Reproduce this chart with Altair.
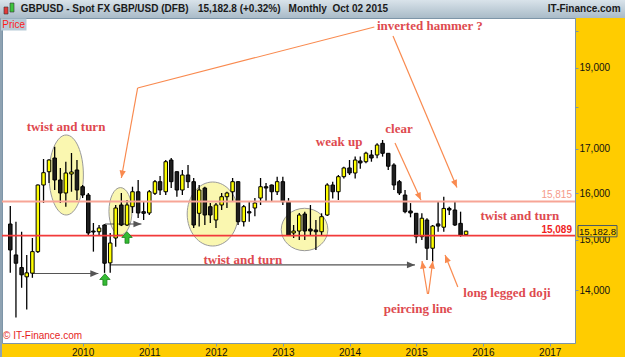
import math
import altair as alt
import pandas as pd

# ---------------- data ----------------
months = pd.date_range("2008-12-01", periods=83, freq="MS")

opens = [15333,                                                          # 2008-12
         14695, 14443, 14260, 14332, 14762, 16177, 16475, 16788, 16289, 16000, 16423, 16514,  # 2009
         16139, 15956, 15186, 15171, 15312, 14536, 15041, 15739, 15312, 15702, 16028, 15595,  # 2010
         15567, 15993, 16251, 16028, 16742, 16475, 16066, 16401, 16251, 15560, 16110, 15702,  # 2011
         15418, 15739, 15919, 16028, 16251, 15382, 15595, 15674, 15890, 16139, 16177, 16028,  # 2012
         16251, 15810, 15145, 15186, 15545, 15228, 15207, 15171, 15524, 16177, 16028, 16363,  # 2013
         16560, 16446, 16720, 16703, 16858, 16858, 17130, 16897, 16628, 16251, 15956, 15610,  # 2014
         15560, 15068, 15418, 14831, 15335, 15266, 15665, 15631, 15347, 15110]                # 2015
highs = [15717,
         15382, 15171, 14695, 15041, 16190, 16765, 16760, 17051, 16560, 16703, 16904, 16742,
         16177, 16000, 15354, 15312, 15330, 15145, 15739, 16000, 15847, 16139, 16289, 15810,
         16066, 16289, 16380, 16742, 16788, 16480, 16514, 16628, 16334, 16177, 16139, 15782,
         15782, 16000, 16028, 16334, 16260, 15739, 15810, 15890, 16334, 16222, 16190, 16360,
         16360, 15890, 15312, 15567, 15595, 15739, 15418, 15560, 16215, 16251, 16401, 16590,
         16742, 16820, 16820, 16935, 16974, 17130, 17209, 16900, 16665, 16289, 16066, 15780,
         15565, 15560, 15455, 15312, 15810, 15919, 15702, 15810, 15595, 15190]
lows = [14338,
        13484, 14047, 13632, 14241, 14736, 15782, 16222, 16066, 15782, 15702, 16028, 15847,
        15890, 15103, 14762, 15103, 14338, 14338, 14864, 15290, 15290, 15567, 15461, 15418,
        15524, 15956, 15956, 15956, 16110, 15919, 15956, 16110, 15249, 15280, 15312, 15354,
        15249, 15631, 15674, 15810, 15312, 15280, 15382, 15496, 15739, 15810, 15810, 15956,
        15739, 15090, 15041, 15000, 15000, 15103, 14796, 15103, 15500, 15880, 15847, 16320,
        16401, 16320, 16545, 16665, 16703, 16780, 16820, 16514, 16066, 15956, 15560, 15475,
        14932, 15000, 14595, 14560, 15171, 15171, 15524, 15290, 15068, 15100]
closes = [14796,
          14529, 14299, 14338, 14762, 16177, 16453, 16742, 16289, 16000, 16446, 16469, 16066,
          15956, 15145, 15165, 15249, 14529, 14938, 15674, 15312, 15739, 16028, 15567, 15560,
          16028, 16251, 16066, 16703, 16251, 16066, 16401, 16251, 15312, 16066, 15524, 15524,
          15739, 15919, 16000, 16251, 15382, 15702, 15567, 15782, 16139, 16110, 16028, 16251,
          15810, 15103, 15186, 15524, 15186, 15186, 15171, 15488, 16177, 16028, 16363, 16560,
          16446, 16742, 16675, 16900, 16788, 17091, 16897, 16600, 16177, 16000, 15595, 15567,
          15068, 15455, 14831, 15290, 15290, 15665, 15631, 15312, 15103, 15182.8]

level_values = [15815, 15089]
level_labels = ["15,815", "15,089"]
current_price = 15182.8
current_label = "15,182.8"

year_ticks = [2010, 2011, 2012, 2013, 2014, 2015, 2016, 2017]
price_ticks = [14000, 15000, 16000, 17000, 18000, 19000, 20000]

note_texts = ["twist and turn", "inverted hammer ?", "weak up", "clear",
              "twist and turn", "twist and turn", "peircing line", "long legged doji"]
note_dates = ["2009-10-02", "2015-03-17", "2013-11-05", "2014-09-29",
              "2012-05-27", "2016-07-21", "2015-01-11", "2016-05-12"]
note_prices = [17519, 20126, 17162, 17471, 14595, 15503, 13644, 13947]

ell_dates = ["2009-10-03", "2010-07-27", "2011-12-14", "2013-04-30"]
ell_prices = [16401, 15603, 15545, 15218]
ell_rx = [17.2, 11.5, 25.5, 23.3]
ell_ry = [40.0, 23.7, 32.0, 21.2]

orange_x1 = ["2014-05-17", "2010-10-29", "2014-08-27", "2014-09-07", "2015-03-04", "2015-03-09", "2015-08-17"]
orange_y1 = [20098, 18483, 19851, 17138, 13928, 13928, 14062]
orange_x2 = ["2010-10-29", "2010-08-01", "2015-08-12", "2015-01-27", "2015-02-02", "2015-04-02", "2015-06-08"]
orange_y2 = [18483, 16333, 16122, 15847, 14573, 14573, 14694]
orange_head = [False, True, True, True, True, True, True]

grey_x1 = ["2009-04-02", "2010-05-03", "2010-05-30"]
grey_x2 = ["2010-03-28", "2010-11-19", "2014-12-25"]
grey_y = [14325, 15333, 14496]

green_dates = ["2010-05-03", "2010-09-01"]
green_prices = [14208, 15052]

# ---------------- scales / layout ----------------
W, H = 573, 325
D_LO, D_HI = pd.Timestamp("2008-11-13"), pd.Timestamp("2017-04-22")
Y_LO, Y_HI = 13021, 20348
SANS = "Liberation Sans"
SERIF = "Liberation Serif"
NOTE_RED = "#de4a4f"
ORANGE = "#f98a4f"
GREY = "#555555"
FRAME = "#7d95a8"

def px(d):
    return (pd.Timestamp(d) - D_LO) / (D_HI - D_LO) * W

def py(v):
    return H * (1 - (math.log(v) - math.log(Y_LO)) / (math.log(Y_HI) - math.log(Y_LO)))

def heading(xa, ya, xb, yb):
    dx, dy = px(xb) - px(xa), py(yb) - py(ya)
    return math.degrees(math.atan2(dx, -dy)) % 360

xscale = alt.Scale(domain=[alt.DateTime(year=2008, month=11, date=13),
                           alt.DateTime(year=2017, month=4, date=22)], nice=False)
yscale = alt.Scale(type="log", domain=[Y_LO, Y_HI], nice=False)

xaxis = alt.Axis(values=[alt.DateTime(year=y, month=1, date=1) for y in year_ticks],
                 format="%Y", grid=False, domain=False, tickColor=FRAME, tickSize=3,
                 labelFont=SANS, labelFontSize=10, labelColor="#111111", labelPadding=1,
                 labelFlush=False, labelOverlap=False, title=None)
yaxis = alt.Axis(orient="right", values=price_ticks,
                 labelExpr="(datum.value == 18000 || datum.value == 20000) ? '' : format(datum.value, ',')",
                 grid=False, domain=True, domainColor=FRAME, tickColor=FRAME, tickSize=3,
                 labelFont=SANS, labelFontSize=10, labelColor="#111111", labelPadding=1,
                 labelOverlap=False, labelFlush=False, title=None)

def X(f):
    return alt.X(f"{f}:T", scale=xscale, axis=xaxis, title=None)

def Y(f):
    return alt.Y(f"{f}:Q", scale=yscale, axis=yaxis, title=None)

# ---------------- tables ----------------
candles = pd.DataFrame({"date": months, "open": opens, "high": highs, "low": lows, "close": closes})

def ell_path(a, b):
    k = 0.5523
    return (f"M{a:.4f},0 C{a:.4f},{k*b:.4f} {k*a:.4f},{b:.4f} 0,{b:.4f} "
            f"C{-k*a:.4f},{b:.4f} {-a:.4f},{k*b:.4f} {-a:.4f},0 "
            f"C{-a:.4f},{-k*b:.4f} {-k*a:.4f},{-b:.4f} 0,{-b:.4f} "
            f"C{k*a:.4f},{-b:.4f} {a:.4f},{-k*b:.4f} {a:.4f},0 Z")

ell_names = [f"e{i}" for i in range(len(ell_dates))]
ell_paths, ell_sizes = [], []
for rx, ry in zip(ell_rx, ell_ry):
    s = max(rx, ry)
    ell_paths.append(ell_path(rx / s, ry / s))
    ell_sizes.append((2 * s) ** 2)
ell_df = pd.DataFrame({"date": pd.to_datetime(ell_dates), "price": ell_prices,
                       "name": ell_names, "sz": ell_sizes})

orange_df = pd.DataFrame({"d1": pd.to_datetime(orange_x1), "p1": orange_y1,
                          "d2": pd.to_datetime(orange_x2), "p2": orange_y2,
                          "head": orange_head})
orange_df["ang"] = [heading(a, b, c, d) for a, b, c, d in zip(orange_x1, orange_y1, orange_x2, orange_y2)]
orange_heads = orange_df[orange_df["head"]]

grey_df = pd.DataFrame({"d1": pd.to_datetime(grey_x1), "d2": pd.to_datetime(grey_x2), "p": grey_y})
grey_df["ang"] = [heading(a, p, b, p) for a, b, p in zip(grey_x1, grey_x2, grey_y)]

notes_df = pd.DataFrame({"date": pd.to_datetime(note_dates), "price": note_prices, "txt": note_texts})
green_df = pd.DataFrame({"date": pd.to_datetime(green_dates), "price": green_prices})
levels_df = pd.DataFrame({"price": level_values, "lab": level_labels})
cur_df = pd.DataFrame({"price": [current_price], "lab": [current_label]})

HEAD = "M0,0 L0.42,1 L-0.42,1 Z"
UP_ARROW = "M0,-1 L0.9,0 L0.35,0 L0.35,1 L-0.35,1 L-0.35,0 L-0.9,0 Z"
BOX = "M-1,-0.29 L1,-0.29 L1,0.29 L-1,0.29 Z"

# ---------------- layers ----------------
ellipses = alt.Chart(ell_df).mark_point(filled=True, fill="#faf7b0", stroke="#9a9a9a",
                                        strokeWidth=1, opacity=1, fillOpacity=1).encode(
    x=X("date"), y=Y("price"),
    shape=alt.Shape("name:N", scale=alt.Scale(domain=ell_names, range=ell_paths), legend=None),
    size=alt.Size("sz:Q", scale=None, legend=None))

grey_lines = alt.Chart(grey_df).mark_rule(color=GREY, strokeWidth=1.2).encode(
    x=X("d1"), x2="d2:T", y=Y("p"))
grey_heads = alt.Chart(grey_df).mark_point(shape=HEAD, filled=True, color=GREY, size=256, opacity=1).encode(
    x=X("d2"), y=Y("p"), angle=alt.Angle("ang:Q", scale=None))

wicks = alt.Chart(candles).mark_rule(color="black", strokeWidth=1.3).encode(
    x=X("date"), y=Y("low"), y2="high:Q")
bodies = alt.Chart(candles).mark_bar(size=3.5, stroke="black", strokeWidth=1).encode(
    x=X("date"), y=Y("open"), y2="close:Q",
    color=alt.condition("datum.close >= datum.open", alt.value("#ffff00"), alt.value("#1e1e1e")))

level_colors = ["#f7a596", "#f23a3a"]
levels = alt.Chart(levels_df).mark_rule(strokeWidth=1.8).encode(
    y=Y("price"),
    color=alt.Color("lab:N", scale=alt.Scale(domain=level_labels, range=level_colors), legend=None))
level_text_hi = alt.Chart(levels_df.iloc[[0]]).mark_text(
    align="right", baseline="middle", dy=-6, font=SANS, fontSize=10, color="#f59a8a").encode(
    x=alt.value(570), y=Y("price"), text="lab:N")
level_text_lo = alt.Chart(levels_df.iloc[[1]]).mark_text(
    align="right", baseline="middle", dy=-6, font=SANS, fontSize=10, fontWeight="bold",
    color="#f01e1e").encode(
    x=alt.value(570), y=Y("price"), text="lab:N")

greens = alt.Chart(green_df).mark_point(shape=UP_ARROW, filled=True, fill="#33bb33", stroke="#1d7f1d",
                                        strokeWidth=0.8, size=132, opacity=1).encode(
    x=X("date"), y=Y("price"))

orange_lines = alt.Chart(orange_df).mark_rule(color=ORANGE, strokeWidth=1.2).encode(
    x=X("d1"), x2="d2:T", y=Y("p1"), y2="p2:Q")
orange_tips = alt.Chart(orange_heads).mark_point(shape=HEAD, filled=True, color=ORANGE, size=225, opacity=1).encode(
    x=X("d2"), y=Y("p2"), angle=alt.Angle("ang:Q", scale=None))

notes = alt.Chart(notes_df).mark_text(font=SERIF, fontSize=13, fontWeight="bold", color=NOTE_RED,
                                      baseline="middle", align="center").encode(
    x=X("date"), y=Y("price"), text="txt:N")

cur_box = alt.Chart(cur_df).mark_point(shape=BOX, filled=True, fill="#ffcc00", stroke="#4a5a66",
                                       strokeWidth=1, size=1521, opacity=1).encode(
    x=alt.value(595.5), y=Y("price"))
cur_text = alt.Chart(cur_df).mark_text(font=SANS, fontSize=9.5, color="#111111", baseline="middle",
                                       align="center", dy=1).encode(
    x=alt.value(595.5), y=Y("price"), text="lab:N")

one = alt.Data(values=[{"k": 0}])

def deco_rect(x, x2, y, y2, color, **kw):
    return alt.Chart(one).mark_rect(color=color, **kw).encode(
        x=alt.value(x), x2=alt.value(x2), y=alt.value(y), y2=alt.value(y2))

def deco_text(x, y, txt, **kw):
    return alt.Chart(one).mark_text(**kw).encode(x=alt.value(x), y=alt.value(y), text=alt.value(txt))

header_grad = alt.LinearGradient(gradient="linear",
                                 stops=[alt.GradientStop(color="#d9e3ea", offset=0),
                                        alt.GradientStop(color="#a9bbc8", offset=1)],
                                 x1=0, x2=0, y1=0, y2=1)
header = alt.Chart(one).mark_rect(color=header_grad).encode(
    x=alt.value(-2), x2=alt.value(623), y=alt.value(-18), y2=alt.value(0))
left_strip = deco_rect(-2, 0, 0, 339, "#8ea2b2")
icon_r = deco_rect(2, 6, -11, -4, "#e23a3a", stroke="#333333", strokeWidth=0.6)
icon_g = deco_rect(8, 12, -15, -6, "#3cc43c", stroke="#333333", strokeWidth=0.6)
price_box = deco_rect(-1, 24.5, 0.5, 12.5, "#b7cad6")
price_txt = deco_text(11.7, 6.8, "Price", font=SANS, fontSize=10, color="#ff1a1a",
                      align="center", baseline="middle")
hdr_kw = dict(font=SANS, fontSize=10, fontWeight="bold", color="#1a1a1a", baseline="middle")
h1 = deco_text(18.7, -8.7, "GBPUSD - Spot FX GBP/USD (DFB)", align="left", **hdr_kw)
h2 = deco_text(196, -8.7, "15,182.8 (+0.32%)", align="left", **hdr_kw)
h3 = deco_text(286.6, -8.7, "Monthly\u00a0 Oct 02 2015", align="left", **hdr_kw)
h4 = deco_text(618.6, -8.7, "IT-Finance.com", align="right", **hdr_kw)
copyright_txt = deco_text(1, 317.5, "\u00a9 IT-Finance.com", font=SANS, fontSize=10, color="#e61e1e",
                          align="left", baseline="middle")

chart = alt.layer(
    ellipses, grey_lines, grey_heads, wicks, bodies, levels, greens,
    orange_lines, orange_tips, notes, level_text_hi, level_text_lo, cur_box, cur_text,
    header, left_strip, icon_r, icon_g, price_box, price_txt, h1, h2, h3, h4, copyright_txt
).properties(
    width=W, height=H, background="#ffcc00",
    padding={"left": 2, "top": 18, "right": 50, "bottom": 14},
    autosize=alt.AutoSizeParams(type="none"),
).configure_view(fill="white", stroke=FRAME, strokeWidth=1)

chart.save("out.html", embed_options={"renderer": "svg", "actions": False})
